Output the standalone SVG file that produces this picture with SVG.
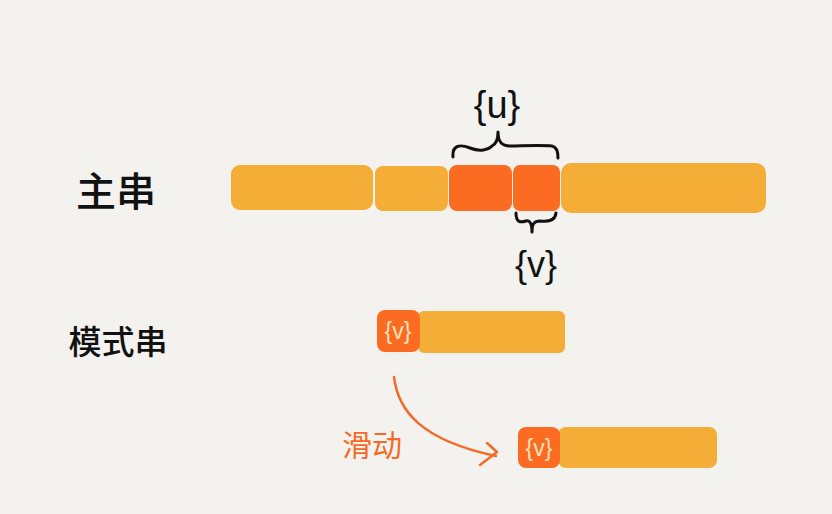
<svg xmlns="http://www.w3.org/2000/svg" width="832" height="514" viewBox="0 0 832 514">
<style>
.y{fill:#f4ad37}
.r{fill:#fb6b22}
.lbl{font-family:"Noto Sans CJK SC","Noto Sans",sans-serif;fill:#111;font-weight:500}
.br{font-family:"Liberation Sans","DejaVu Sans",sans-serif;fill:#111}
.in{font-family:"Liberation Sans","DejaVu Sans",sans-serif;fill:#fde2b8;font-size:23px;text-anchor:middle}
.brace{fill:none;stroke:#111;stroke-width:3;stroke-linecap:round;stroke-linejoin:round}
.arr{fill:none;stroke:#f46a28;stroke-width:2.5;stroke-linecap:round;stroke-linejoin:round}
</style>
<rect width="832" height="514" fill="#f3f2ee"/>
<g id="label-main"><text class="lbl" x="116" y="206" font-size="40" text-anchor="middle">主串</text></g>
<g id="label-pattern"><text class="lbl" x="118" y="354" font-size="33" text-anchor="middle">模式串</text></g>
<g id="main-string">
<rect class="y" x="231" y="165" width="142" height="45" rx="9"/>
<rect class="y" x="375" y="166" width="73" height="45" rx="8"/>
<rect class="r" x="449" y="165" width="63" height="46" rx="8"/>
<rect class="r" x="513" y="165" width="47" height="46" rx="7"/>
<rect class="y" x="561" y="163" width="205" height="50" rx="10"/>
</g>
<g id="brace-u">
<path class="brace" d="M453,157 C452,145 460,144 470,148 C480,152 488,150 492,146 C496,144 498,140 498,132 M498,132 C498,142 502,146 510,146 C520,146 540,145 552,146 C557,147 558,152 558,158"/>
<text class="br" x="497" y="118" font-size="38" text-anchor="middle">{u}</text>
</g>
<g id="brace-v">
<path class="brace" d="M516,213 C516,222 520,223 526,221 C530,220 532,224 532,232 M532,232 C532,224 534,221 540,221 C548,222 555,221 556,213"/>
<text class="br" x="536" y="277" font-size="36" text-anchor="middle">{v}</text>
</g>
<g id="pattern-1">
<rect class="y" x="418" y="311" width="147" height="42" rx="6"/>
<rect class="r" x="377" y="310" width="43" height="42" rx="8"/>
<text class="in" x="398" y="339">{v}</text>
</g>
<g id="pattern-2">
<rect class="y" x="558" y="427" width="159" height="41" rx="8"/>
<rect class="r" x="518" y="427" width="42" height="41" rx="8"/>
<text class="in" x="539" y="456">{v}</text>
</g>
<g id="connectors">
<path class="arr" d="M394,377 C398,410 420,440 496,456"/>
<path class="arr" d="M487,443 L497,452 L480,465"/>
<text x="372" y="456" font-size="30" text-anchor="middle" font-family="Noto Sans CJK SC,sans-serif" fill="#f46a28">滑动</text>
</g>
</svg>
